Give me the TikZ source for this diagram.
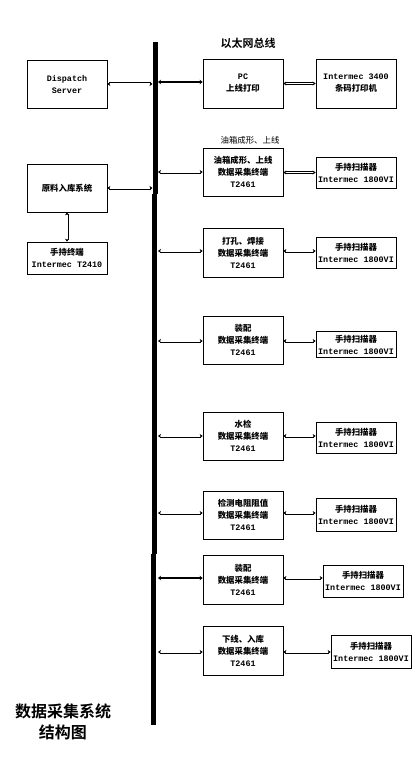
\documentclass[tikz,border=0pt]{standalone}
\usepackage{fontspec}
\setmainfont{Liberation Mono}[BoldFont={Liberation Mono Bold}]
\newfontfamily\cjkf{Noto Sans CJK SC}
\newfontfamily\cjkb{Noto Sans CJK SC Bold}
\usetikzlibrary{arrows.meta}
\newcommand\zh[1]{{\cjkf #1}}
\begin{document}
\begin{tikzpicture}[x=1pt,y=-1pt,
  box/.style={draw,line width=0.7pt,minimum width=80pt,inner sep=0pt,align=center,
    font=\bfseries\fontsize{8.4}{12}\selectfont},
  link/.style={draw,double,double distance=1.4pt,line width=0.8pt,
    {Stealth[length=3pt,width=4pt]}-{Stealth[length=3pt,width=4pt]}},
  tlink/.style={draw,line width=1.8pt,
    {Stealth[length=3pt,width=4.5pt]}-{Stealth[length=3pt,width=4.5pt]}},
  bus/.style={line width=5pt}]
\useasboundingbox (0,0) rectangle (416,773);
% bus
\coordinate (b1) at (155.5,42);
\coordinate (b2) at (155.5,194);
\coordinate (b3) at (154.5,194);
\coordinate (b4) at (154.5,554);
\coordinate (b5) at (153.5,554);
\coordinate (b6) at (153.5,725);
\draw[bus] (b1) -- (b2);
\draw[bus] (b3) -- (b4);
\draw[bus] (b5) -- (b6);
\node[font=\cjkb\fontsize{11}{13}\selectfont] (bt) at (248,43) {以太网总线};
% left side
\node[box,minimum height=48pt] (disp) at (67,84) {Dispatch\\Server};
\node[box,minimum height=48pt] (raw) at (67,188) {\zh{原料入库系统}};
\node[box,minimum height=32pt] (t2410) at (67,258) {\zh{手持终端}\\Intermec T2410};
% top row
\node[box,minimum height=49pt] (pc) at (243,83.5) {PC\\\zh{上线打印}};
\node[box,minimum height=49pt] (prn) at (356,83.5) {Intermec 3400\\\zh{条码打印机}};
% terminals
\node[font=\cjkf\fontsize{8.4}{12}\selectfont] (lab1) at (250,140) {油箱成形、上线};
\node[box,minimum height=48pt] (d1) at (243,172) {\zh{油箱成形、上线}\\\zh{数据采集终端}\\T2461};
\node[box,minimum height=49pt] (d2) at (243,252.5) {\zh{打孔、焊接}\\\zh{数据采集终端}\\T2461};
\node[box,minimum height=48pt] (d3) at (243,340) {\zh{装配}\\\zh{数据采集终端}\\T2461};
\node[box,minimum height=48pt] (d4) at (243,436) {\zh{水检}\\\zh{数据采集终端}\\T2461};
\node[box,minimum height=48pt] (d5) at (243,515) {\zh{检测电阻阻值}\\\zh{数据采集终端}\\T2461};
\node[box,minimum height=49pt] (d6) at (243,579.5) {\zh{装配}\\\zh{数据采集终端}\\T2461};
\node[box,minimum height=49pt] (d7) at (243,650.5) {\zh{下线、入库}\\\zh{数据采集终端}\\T2461};
% scanners
\node[box,minimum height=31pt] (s1) at (356,172.5) {\zh{手持扫描器}\\Intermec 1800VI};
\node[box,minimum height=31pt] (s2) at (356,252.5) {\zh{手持扫描器}\\Intermec 1800VI};
\node[box,minimum height=26pt] (s3) at (356,344.5) {\zh{手持扫描器}\\Intermec 1800VI};
\node[box,minimum height=31pt] (s4) at (356,437.5) {\zh{手持扫描器}\\Intermec 1800VI};
\node[box,minimum height=33pt] (s5) at (356,514.5) {\zh{手持扫描器}\\Intermec 1800VI};
\node[box,minimum height=32pt] (s6) at (363,581) {\zh{手持扫描器}\\Intermec 1800VI};
\node[box,minimum height=33pt] (s7) at (371,651.5) {\zh{手持扫描器}\\Intermec 1800VI};
% connectors to bus
\coordinate (bxl) at (152.5,0);
\coordinate (bxr) at (158,0);
\draw[link] (disp.east) -- (disp.east -| bxl);
\draw[link] (raw.east) -- (raw.east -| bxl);
\draw[link] (raw.south) -- (t2410.north);
\draw[tlink] (pc.west |- 0,82) -- (bxr |- 0,82);
\draw[link] (pc.east) -- (pc.east -| prn.west);
\draw[link] (bxr |- 0,172) -- (d1.west |- 0,172);
\draw[link] (bxr |- 0,251) -- (d2.west |- 0,251);
\draw[link] (bxr |- 0,341) -- (d3.west |- 0,341);
\draw[link] (bxr |- 0,436) -- (d4.west |- 0,436);
\draw[link] (bxr |- 0,513) -- (d5.west |- 0,513);
\draw[tlink] (bxr |- 0,578) -- (d6.west |- 0,578);
\draw[link] (bxr |- 0,652) -- (d7.west |- 0,652);
% connectors terminal to scanner
\draw[link] (d1.east |- s1.west) -- (s1.west);
\draw[link] (d2.east |- 0,251) -- (s2.west |- 0,251);
\draw[link] (d3.east |- 0,341) -- (s3.west |- 0,341);
\draw[link] (d4.east |- 0,436) -- (s4.west |- 0,436);
\draw[link] (d5.east |- 0,513) -- (s5.west |- 0,513);
\draw[link] (d6.east |- 0,578) -- (s6.west |- 0,578);
\draw[link] (d7.east |- 0,652) -- (s7.west |- 0,652);
% title
\node[font=\cjkb\fontsize{16}{21}\selectfont,align=center] (title) at (63,722) {数据采集系统\\结构图};
\end{tikzpicture}
\end{document}
